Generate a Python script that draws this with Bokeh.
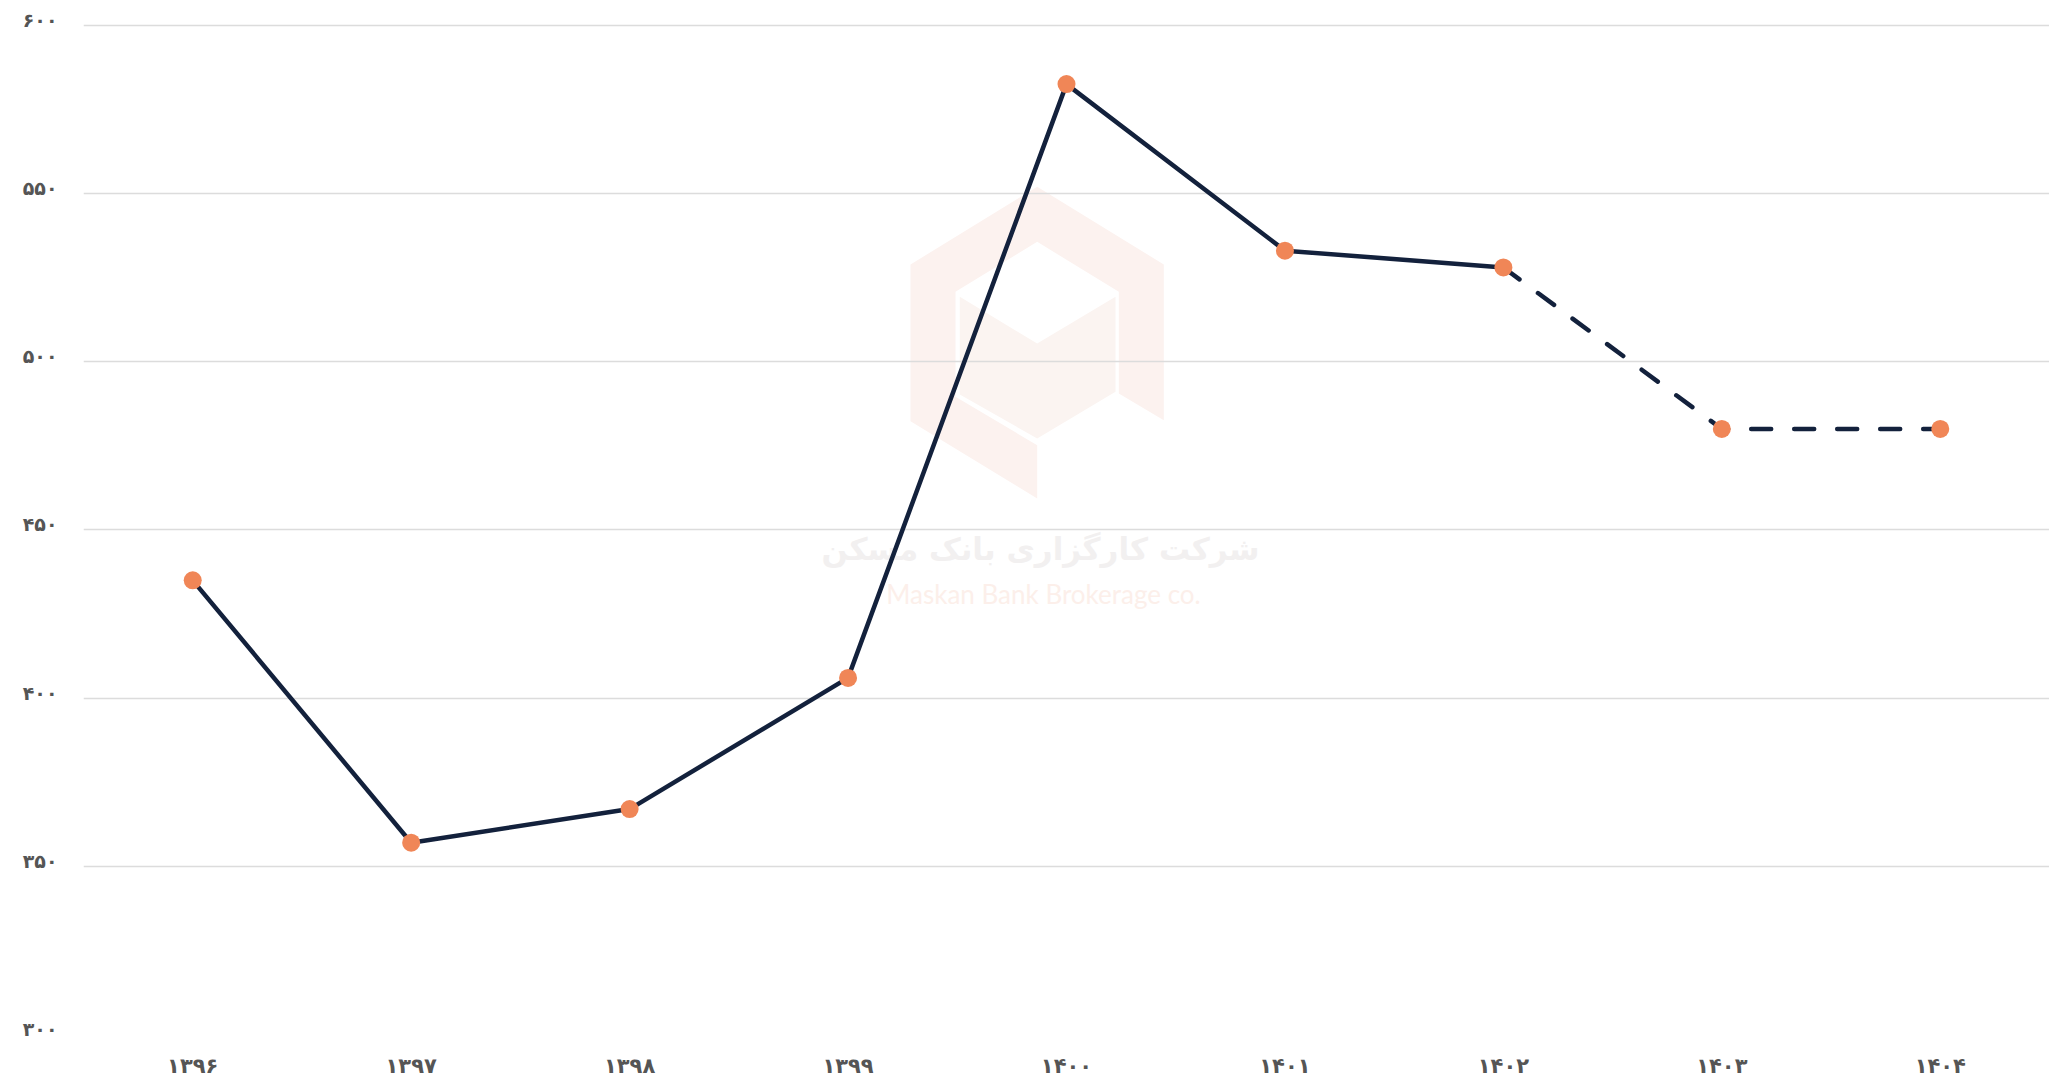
from bokeh.plotting import figure
from bokeh.models import Label, FixedTicker, PolyAnnotation, Range1d, LinearAxis
from bokeh.embed import file_html
from bokeh.resources import INLINE

years = ["۱۳۹۶", "۱۳۹۷", "۱۳۹۸", "۱۳۹۹", "۱۴۰۰", "۱۴۰۱", "۱۴۰۲", "۱۴۰۳", "۱۴۰۴"]
values = [435, 357, 367, 406, 582.5, 533, 528, 480, 480]
actual_years = years[:7]
actual_values = values[:7]
forecast_years = years[6:]
forecast_values = values[6:]
y_ticks = [300, 350, 400, 450, 500, 550, 600]
y_tick_labels = ["۳۰۰", "۳۵۰", "۴۰۰", "۴۵۰", "۵۰۰", "۵۵۰", "۶۰۰"]

LINE = "#13213c"
DOT = "#f08657"

Y0, Y1 = 300, 602
LABEL_SHIFT = 1.6  # tick labels sit slightly above their gridlines

p = figure(x_range=years, y_range=(Y0, Y1), width=2049, height=1080,
           output_backend="svg", toolbar_location=None,
           min_border_left=83, min_border_right=0, min_border_top=18, min_border_bottom=44)
p.outline_line_color = None
p.background_fill_color = "white"

# ---- faint watermark (decoration, screen units) ----
dy = 0
logo_outer_x = [953.7, 827, 827, 953.7, 953.7, 872, 872, 953.7, 1035.3, 1035.3, 1080.3, 1080.3]
logo_outer_y = [v + dy for v in [847.7, 770, 613.3, 536, 589.3, 637.7, 742.7, 792.7, 742.7, 641, 614.3, 770]]
logo_inner_x = [876.3, 953.7, 1032, 1032, 953.7, 876.3]
logo_inner_y = [v + dy for v in [737.7, 691, 737.7, 642.7, 596, 640]]
p.add_layout(PolyAnnotation(xs=logo_outer_x, ys=logo_outer_y, xs_units="screen", ys_units="screen",
                            fill_color="#fcf2ef", fill_alpha=1, line_color=None, level="image"))
p.add_layout(PolyAnnotation(xs=logo_inner_x, ys=logo_inner_y, xs_units="screen", ys_units="screen",
                            fill_color="#fbf4f1", fill_alpha=1, line_color=None, level="image"))
p.add_layout(Label(x=957, y=486, x_units="screen", y_units="screen",
                   text="شرکت کارگزاری بانک مسکن", text_align="center", text_baseline="middle",
                   text_font_size="31px", text_font="DejaVu Sans", text_font_style="bold",
                   text_color="#f2f0f0", level="image"))
p.add_layout(Label(x=960, y=441, x_units="screen", y_units="screen",
                   text="Maskan Bank Brokerage co.", text_align="center", text_baseline="middle",
                   text_font_size="26px", text_font="Lato",
                   text_color="#fcefea", level="image"))

# ---- data ----
p.line(actual_years, actual_values, line_color=LINE, line_width=4.5, line_join="round")
p.line(forecast_years, forecast_values, line_color=LINE, line_width=4.5,
       line_dash="20 23", line_cap="round")
p.scatter(years, values, size=18, fill_color=DOT, line_color=None)

# grid from the main (hidden) y axis
p.yaxis.ticker = FixedTicker(ticks=y_ticks)
p.yaxis.visible = False
p.xgrid.grid_line_color = None
p.ygrid.grid_line_color = "#dcdcdc"
p.ygrid.grid_line_width = 1.5

# visible y axis on a slightly shifted range so labels sit just above gridlines
p.extra_y_ranges = {"lab": Range1d(Y0 - LABEL_SHIFT, Y1 - LABEL_SHIFT)}
yax = LinearAxis(y_range_name="lab", ticker=FixedTicker(ticks=y_ticks))
yax.major_label_overrides = {t: l for t, l in zip(y_ticks, y_tick_labels)}
p.add_layout(yax, "left")

for ax in (p.xaxis[0], yax):
    ax.axis_line_color = None
    ax.major_tick_line_color = None
    ax.minor_tick_line_color = None
    ax.major_tick_out = 0
    ax.major_tick_in = 0
    ax.minor_tick_out = 0
    ax.minor_tick_in = 0
    ax.major_label_text_color = "#555555"
    ax.major_label_text_font = "DejaVu Sans"
    ax.major_label_text_font_style = "bold"

p.xaxis.major_label_text_font_size = "21px"
p.xaxis.major_label_standoff = 19
yax.major_label_text_font_size = "19px"
yax.major_label_standoff = 26

open("out.html", "w").write(file_html(p, INLINE))
